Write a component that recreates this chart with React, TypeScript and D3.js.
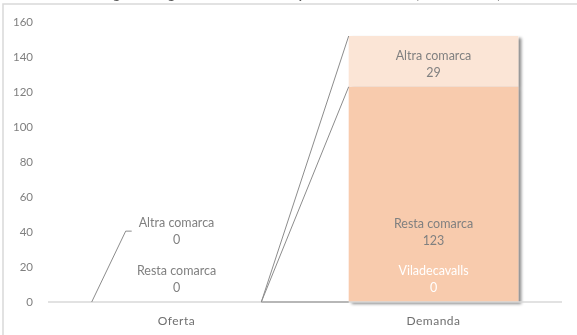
import React, { useEffect, useRef } from "react";
import * as d3 from "d3";

const categories = ["Oferta", "Demanda"];
const seriesNames = ["Viladecavalls", "Resta comarca", "Altra comarca"];
const viladecavalls = [0, 0];
const restaComarca = [0, 123];
const altraComarca = [0, 29];
const yTicks = [0, 20, 40, 60, 80, 100, 120, 140, 160];
// where Excel left each data label (in axis units), null = label hidden
const labelAt = [
  [null, 13],
  [13, 40],
  [40.5, 136],
];
const colors = ["#F4B183", "#F8CBAD", "#FBE5D6"];
const labelColors = ["#ffffff", "#808080", "#808080"];
const title = "Llocs de treball segons categoria i residència de la persona contractada, Viladecavalls, 2019";

export default function App() {
  const ref = useRef<SVGSVGElement>(null);

  useEffect(() => {
    const width = 577;
    const height = 335;
    const margin = { left: 48, right: 15, top: 22, bottom: 33 };
    const svg = d3.select(ref.current);
    svg.selectAll("*").remove();
    svg.attr("width", width).attr("height", height);

    const font = "Lato, 'Open Sans', sans-serif";

    const table = categories.map((c, i) => ({
      category: c,
      Viladecavalls: viladecavalls[i],
      "Resta comarca": restaComarca[i],
      "Altra comarca": altraComarca[i],
    }));
    const stacked = d3.stack<any>().keys(seriesNames)(table);

    const xScale = d3
      .scaleBand()
      .domain(categories)
      .range([margin.left, width - margin.right])
      .padding(0);
    const barW = xScale.bandwidth() * 0.66;
    const barX = (c: string) => (xScale(c) as number) + (xScale.bandwidth() - barW) / 2;

    const yScale = d3
      .scaleLinear()
      .domain([0, 160])
      .range([height - margin.bottom, height - margin.bottom - 280]);

    const defs = svg.append("defs");
    const filter = defs
      .append("filter")
      .attr("id", "shadow")
      .attr("x", "-10%")
      .attr("y", "-10%")
      .attr("width", "130%")
      .attr("height", "130%");
    filter
      .append("feDropShadow")
      .attr("dx", 3)
      .attr("dy", 2)
      .attr("stdDeviation", 1.6)
      .attr("flood-color", "#000")
      .attr("flood-opacity", 0.45);

    // frame
    svg
      .append("rect")
      .attr("x", 3)
      .attr("y", 4)
      .attr("width", width + 20)
      .attr("height", height + 20)
      .attr("fill", "#fff")
      .attr("stroke", "#d9d9d9")
      .attr("stroke-width", 1.5);

    // title (cut by the window, as in the reference)
    svg
      .append("text")
      .attr("x", 272)
      .attr("y", -1)
      .attr("text-anchor", "middle")
      .attr("font-family", font)
      .attr("font-weight", "bold")
      .attr("font-size", 13)
      .attr("fill", "#595959")
      .text(title);

    // y tick labels
    svg
      .append("g")
      .selectAll("text")
      .data(yTicks)
      .enter()
      .append("text")
      .attr("x", 33)
      .attr("y", (d) => yScale(d))
      .attr("dy", "0.35em")
      .attr("text-anchor", "end")
      .attr("font-family", font)
      .attr("font-size", 11.5)
      .attr("fill", "#7f7f7f")
      .text((d) => d);

    // bars
    const bars = svg.append("g").attr("filter", "url(#shadow)");
    stacked.forEach((s, si) => {
      bars
        .append("g")
        .selectAll("rect")
        .data(s)
        .enter()
        .append("rect")
        .attr("x", (d) => barX(d.data.category))
        .attr("y", (d) => yScale(d[1]))
        .attr("width", barW)
        .attr("height", (d) => yScale(d[0]) - yScale(d[1]))
        .attr("fill", colors[si]);
    });

    // x axis line
    svg
      .append("line")
      .attr("x1", margin.left)
      .attr("x2", width - margin.right)
      .attr("y1", yScale(0))
      .attr("y2", yScale(0))
      .attr("stroke", "#d9d9d9")
      .attr("stroke-width", 1.3);

    // series lines
    const x0 = barX(categories[0]) + barW;
    const x1 = barX(categories[1]);
    stacked.forEach((s) => {
      svg
        .append("line")
        .attr("x1", x0)
        .attr("y1", yScale(s[0][1]))
        .attr("x2", x1)
        .attr("y2", yScale(s[1][1]))
        .attr("stroke", "#8c8c8c")
        .attr("stroke-width", 1);
    });

    // leader line for the lifted Oferta label
    const lx = barX(categories[0]);
    const ly = yScale(labelAt[2][0] as number);
    svg
      .append("path")
      .attr("d", d3.line()([[lx, yScale(0)], [lx + 34, ly], [lx + 40, ly]]))
      .attr("fill", "none")
      .attr("stroke", "#8c8c8c")
      .attr("stroke-width", 1);

    // data labels
    const labels = svg.append("g").attr("font-family", font).attr("font-size", 12.5).attr("text-anchor", "middle");
    stacked.forEach((s, si) => {
      s.forEach((d, ci) => {
        const at = labelAt[si][ci];
        if (at === null) return;
        const cx = barX(d.data.category) + barW / 2;
        const cy = yScale(at);
        labels
          .append("text")
          .attr("x", cx)
          .attr("y", cy - 4)
          .attr("fill", labelColors[si])
          .text(seriesNames[si]);
        labels
          .append("text")
          .attr("x", cx)
          .attr("y", cy + 13)
          .attr("fill", labelColors[si])
          .text(d[1] - d[0]);
      });
    });

    // category labels
    svg
      .append("g")
      .selectAll("text")
      .data(categories)
      .enter()
      .append("text")
      .attr("x", (d) => (xScale(d) as number) + xScale.bandwidth() / 2)
      .attr("y", 325)
      .attr("text-anchor", "middle")
      .attr("font-family", font)
      .attr("font-size", 12)
      .attr("fill", "#6f6f6f")
      .attr("letter-spacing", 0.5)
      .text((d) => d);
  }, []);

  return (
    <div style={{ position: "fixed", left: 0, top: 0 }}>
      <svg ref={ref} style={{ display: "block" }}></svg>
    </div>
  );
}
